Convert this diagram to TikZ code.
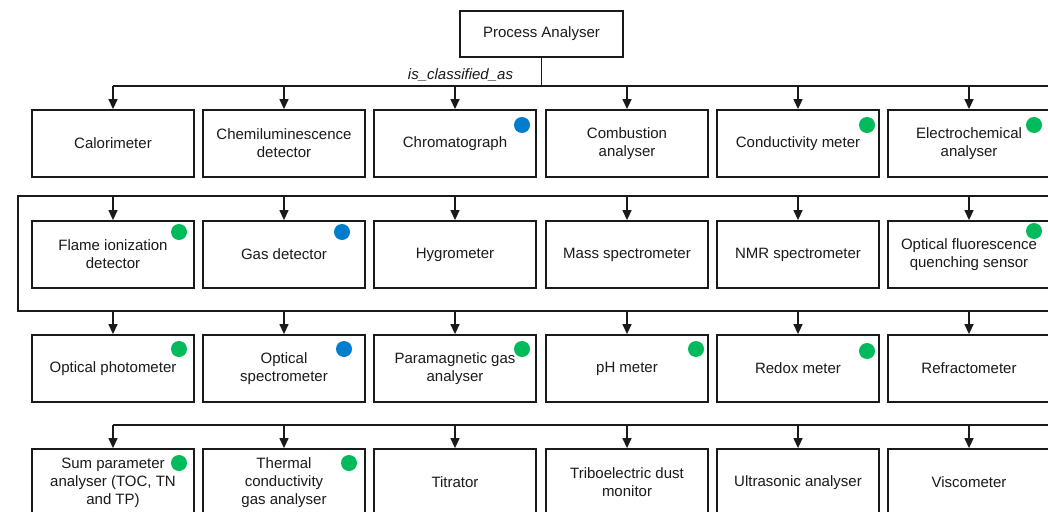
\documentclass[tikz,border=0pt]{standalone}
\usepackage{fontspec}
\setmainfont{Liberation Sans}
\usetikzlibrary{arrows.meta}
\definecolor{dotgreen}{RGB}{0,186,92}
\definecolor{dotblue}{RGB}{0,125,204}
\definecolor{ink}{RGB}{26,26,26}
\begin{document}
\begin{tikzpicture}[x=1pt,y=-1pt,
  box/.style={draw=ink,line width=1.8pt,minimum width=162pt,minimum height=67pt,inner sep=0pt,align=center,text=ink,font=\fontsize{15}{18}\selectfont},
  topbox/.style={box,minimum width=163pt,minimum height=46pt},
  conn/.style={draw=ink,line width=1.3pt},
  arr/.style={conn,-{Triangle[length=10pt,width=9pt]}},
  dot/.style={circle,minimum size=16pt,inner sep=0pt},
  gdot/.style={dot,fill=dotgreen},
  bdot/.style={dot,fill=dotblue},
  lbl/.style={font=\fontsize{15}{18}\selectfont\itshape,text=ink,inner sep=0pt}]
\useasboundingbox (0,0) rectangle (1048,511);
\clip (0,0) rectangle (1048,511);
\fill[white] (0,0) rectangle (1048,511);

% top node
\node[topbox] (pa) at (541.5,34) {Process Analyser};

% row 1
\node[box] (a1) at (113,143.5) {Calorimeter};
\node[box] (a2) at (284,143.5) {Chemiluminescence\\detector};
\node[box] (a3) at (455,143.5) {Chromatograph};
\node[box] (a4) at (627,143.5) {Combustion\\analyser};
\node[box] (a5) at (798,143.5) {Conductivity meter};
\node[box] (a6) at (969,143.5) {Electrochemical\\analyser};
% row 2
\node[box] (b1) at (113,254.5) {Flame ionization\\detector};
\node[box] (b2) at (284,254.5) {Gas detector};
\node[box] (b3) at (455,254.5) {Hygrometer};
\node[box] (b4) at (627,254.5) {Mass spectrometer};
\node[box] (b5) at (798,254.5) {NMR spectrometer};
\node[box] (b6) at (969,254.5) {Optical fluorescence\\quenching sensor};
% row 3
\node[box] (c1) at (113,368.5) {Optical photometer};
\node[box] (c2) at (284,368.5) {Optical\\spectrometer};
\node[box] (c3) at (455,368.5) {Paramagnetic gas\\analyser};
\node[box] (c4) at (627,368.5) {pH meter};
\node[box] (c5) at (798,368.5) {Redox meter};
\node[box] (c6) at (969,368.5) {Refractometer};
% row 4
\node[box] (d1) at (113,482.5) {Sum parameter\\analyser (TOC, TN\\and TP)};
\node[box] (d2) at (284,482.5) {Thermal\\conductivity\\gas analyser};
\node[box] (d3) at (455,482.5) {Titrator};
\node[box] (d4) at (627,482.5) {Triboelectric dust\\monitor};
\node[box] (d5) at (798,482.5) {Ultrasonic analyser};
\node[box] (d6) at (969,482.5) {Viscometer};

% bus coordinates
\coordinate (busA) at (0,86);
\coordinate (busAend) at (1048,86);
\coordinate (busBl) at (18,196);
\coordinate (busBend) at (1048,196);
\coordinate (busCl) at (18,311);
\coordinate (busCend) at (1048,311);
\coordinate (busD) at (0,425);
\coordinate (busDend) at (1048,425);

% row 1 connectors
\draw[conn] (pa.south) -- (pa.south |- busA);
\draw[conn] (a1.north |- busA) -- (busAend);
\foreach \n in {a1,a2,a3,a4,a5,a6}
  \draw[arr] (\n.north |- busA) -- (\n.north);
\node[lbl] (cls) at (460.5,75) {is\_classified\_as};

% row 2 / row 3 connectors
\draw[conn] (busBend) -- (busBl) -- (busCl) -- (busCend);
\foreach \n in {b1,b2,b3,b4,b5,b6}
  \draw[arr] (\n.north |- busBl) -- (\n.north);
\foreach \n in {c1,c2,c3,c4,c5,c6}
  \draw[arr] (\n.north |- busCl) -- (\n.north);

% row 4 connectors
\draw[conn] (d1.north |- busD) -- (busDend);
\foreach \n in {d1,d2,d3,d4,d5,d6}
  \draw[arr] (\n.north |- busD) -- (\n.north);

% status dots
\node[bdot] (s1) at (522,125) {};
\node[gdot] (s2) at (867,125) {};
\node[gdot] (s3) at (1034,125) {};
\node[gdot] (s4) at (179,232) {};
\node[bdot] (s5) at (342,232) {};
\node[gdot] (s6) at (1034,231) {};
\node[gdot] (s7) at (179,349) {};
\node[bdot] (s8) at (344,349) {};
\node[gdot] (s9) at (522,349) {};
\node[gdot] (s10) at (696,349) {};
\node[gdot] (s11) at (867,351) {};
\node[gdot] (s12) at (179,463) {};
\node[gdot] (s13) at (349,463) {};
\end{tikzpicture}
\end{document}
